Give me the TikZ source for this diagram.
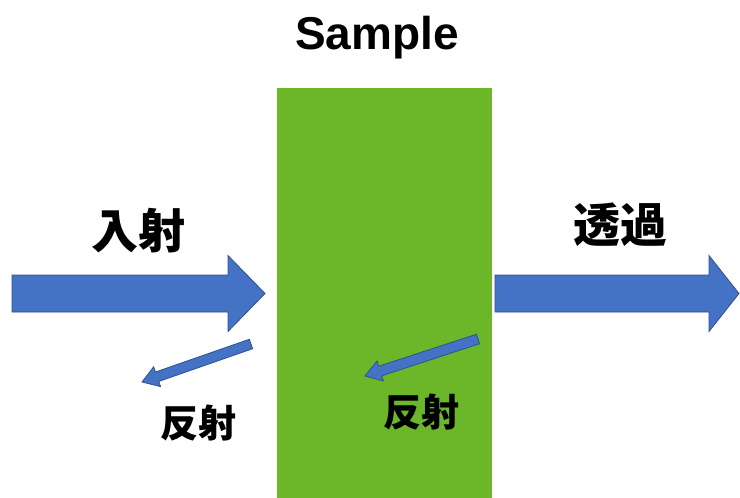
\documentclass[tikz,border=0pt]{standalone}
\usepackage{fontspec}
\setmainfont{Liberation Sans}
\newfontfamily\cjk{Noto Sans CJK JP}
\usetikzlibrary{calc}
\definecolor{samplegreen}{RGB}{108,182,42}
\definecolor{arrowblue}{RGB}{68,114,196}
\definecolor{arrowedge}{RGB}{47,82,143}
\tikzset{
  blockarr/.style={fill=arrowblue, draw=arrowedge, line width=0.8pt, line join=miter},
  bigjp/.style={font=\cjk\bfseries\fontsize{47}{50}\selectfont, inner sep=0pt},
  smalljp/.style={font=\cjk\bfseries\fontsize{38}{42}\selectfont, inner sep=0pt},
}
% #1 tail, #2 tip, #3 shaft half width, #4 head half width, #5 head length
\newcommand{\fatarrowdraw}[5]{%
  \coordinate (hh) at ($(#2)!#5!(#1)$);
  \draw[blockarr] ($(#1)!#3!90:(#2)$) -- ($(hh)!#3!-90:(#1)$) -- ($(hh)!#4!-90:(#1)$)
    -- (#2) -- ($(hh)!#4!90:(#1)$) -- ($(hh)!#3!90:(#1)$) -- ($(#1)!#3!-90:(#2)$) -- cycle;
}
\begin{document}
\begin{tikzpicture}[x=1pt,y=-1pt]
\useasboundingbox (0,0) rectangle (740,498);
\fill[white] (0,0) rectangle (740,498);
% sample slab
\fill[samplegreen] (277,88) rectangle (492,498);
\node[font=\bfseries\fontsize{46}{50}\selectfont, anchor=base, inner sep=0pt] (title) at (377,49) {Sample};
% incident arrow
\coordinate (inA) at (12,293.5);
\coordinate (inB) at (265,293.5);
\fatarrowdraw{inA}{inB}{18.5pt}{38pt}{37pt}
% transmitted arrow
\coordinate (trA) at (495,293.5);
\coordinate (trB) at (739,293.5);
\fatarrowdraw{trA}{trB}{18.5pt}{38pt}{30pt}
% reflected arrows
\coordinate (r1A) at (251,344);
\coordinate (r1B) at (142,382);
\fatarrowdraw{r1A}{r1B}{5pt}{10.5pt}{16pt}
\coordinate (r2A) at (478,339);
\coordinate (r2B) at (365,376);
\fatarrowdraw{r2A}{r2B}{5pt}{10.5pt}{16pt}
% labels
\node[bigjp] (nyusha) at (138,231) {入射};
\node[bigjp] (toka) at (620,225) {透過};
\node[smalljp] (hansha1) at (198,423) {反射};
\node[smalljp] (hansha2) at (421,412) {反射};
\end{tikzpicture}
\end{document}
